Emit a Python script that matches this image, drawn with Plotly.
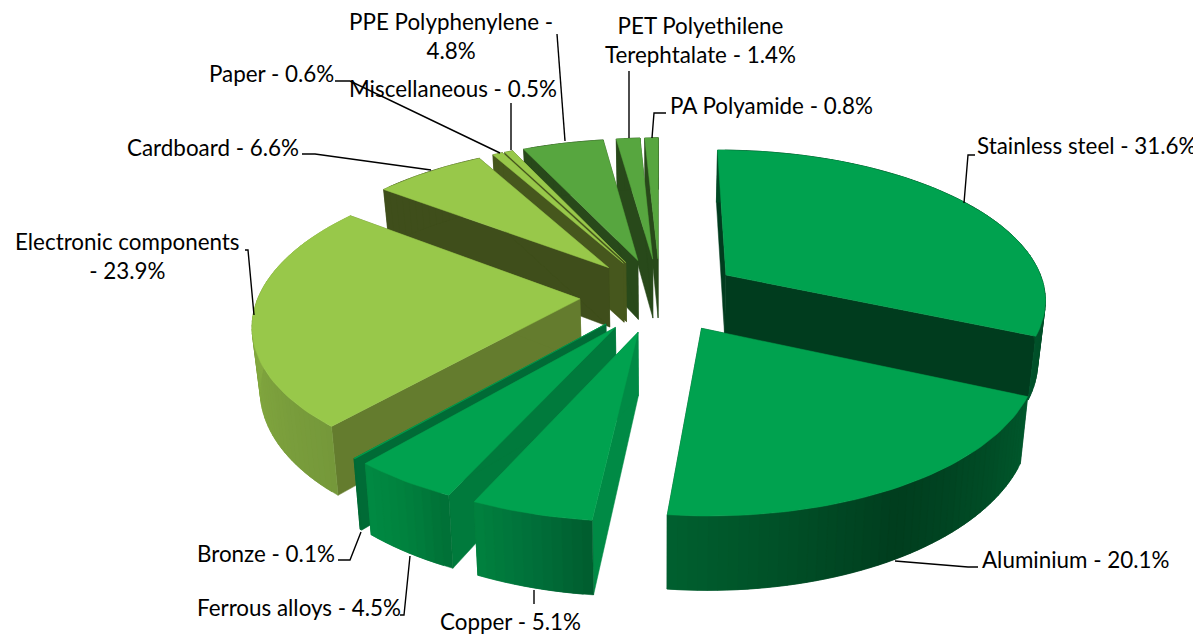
import math
import plotly.graph_objects as go

# ---- data ----
materials = ["Stainless steel", "Aluminium", "Copper", "Ferrous alloys", "Bronze",
             "Electronic components", "Cardboard", "Paper", "Miscellaneous",
             "PPE Polyphenylene", "PET Polyethilene Terephtalate", "PA Polyamide"]
shares = [31.6, 20.1, 5.1, 4.5, 0.1, 23.9, 6.6, 0.6, 0.5, 4.8, 1.4, 0.8]

# ---- styles ----
top_colors = ["#00A24F", "#00A24F", "#00A24F", "#00A24F", "#00A24F", "#98C84A",
              "#98C84A", "#98C84A", "#98C84A", "#57A63F", "#57A63F", "#57A63F"]
face_colors = ["#003C1E", "#004A25", "#008A45", "#007A3C", "#006B36", "#647C2E",
               "#3F4E1B", "#46571D", "#46571D", "#28491A", "#28491A", "#28491A"]
arc_stops = [["#004A25", "#00411F", "#00522A"],
             ["#00602F", "#003D1E", "#00582C"],
             ["#00813E", "#00703A", "#005C2E"],
             ["#008A42", "#00813E", "#006F36"],
             ["#006B36", "#006B36", "#006B36"],
             ["#93B84A", "#84AA40", "#75983A"],
             ["#3F4E1B", "#3F4E1B", "#3F4E1B"],
             ["#46571D", "#46571D", "#46571D"],
             ["#46571D", "#46571D", "#46571D"],
             ["#28491A", "#28491A", "#28491A"],
             ["#28491A", "#28491A", "#28491A"],
             ["#28491A", "#28491A", "#28491A"]]
label_texts = ["Stainless steel - 31.6%", "Aluminium - 20.1%", "Copper - 5.1%", "Ferrous alloys - 4.5%",
               "Bronze - 0.1%", "Electronic components<br>- 23.9%", "Cardboard - 6.6%", "Paper - 0.6%",
               "Miscellaneous - 0.5%", "PPE Polyphenylene -<br>4.8%", "PET Polyethilene<br>Terephtalate - 1.4%",
               "PA Polyamide - 0.8%"]
label_x = [975, 980, 510, 403, 337, 127, 301, 336, 453, 451, 700, 668]
label_y = [145, 559, 621, 607, 553, 256, 147, 73, 88, 36, 40, 105]
label_anchor = ["left", "left", "center", "right", "right", "center", "right", "right", "center", "center", "center", "left"]
leader_x = [[975, 968, 964], [978, 968, 895], [534, 534], [410, 404, 400], [361, 350, 338], [245, 248, 254],
            [302, 315, 431], [335, 350, 500], [511, 511], [557, 565], [629, 629], [666, 654, 652]]
leader_y = [[155, 155, 203], [567, 567, 561], [590, 604], [556, 615, 615], [532, 560, 560], [250, 250, 315],
            [154, 154, 170], [81, 81, 153], [103, 150], [34, 141], [71, 138], [113, 113, 138]]

# ---- projection of the exploded disc ----
CX, CY, RX, RY, PERSP, EXPLODE, DEPTH, SHRINK = 660, 295, 321, 149, 0.148, 0.25, 61, 0.98
PAGE_OFFSET = 8  # default body margin of the written page


def project(a, b, low=False):
    s = 1 / (1 + PERSP * b)
    x, y = CX + RX * a * s, CY - RY * b * s
    if low:
        x = CX + (x - CX) * SHRINK
        y = y + DEPTH * s
    return x, y


def hex_mix(c1, c2, t):
    v1 = [int(c1[i:i + 2], 16) for i in (1, 3, 5)]
    v2 = [int(c2[i:i + 2], 16) for i in (1, 3, 5)]
    return "#%02X%02X%02X" % tuple(round(p + (q - p) * t) for p, q in zip(v1, v2))


def poly(pts, color, name):
    return go.Scatter(x=[p[0] for p in pts] + [pts[0][0]], y=[p[1] for p in pts] + [pts[0][1]],
                      mode="lines", fill="toself", fillcolor=color,
                      line=dict(color=color, width=0.5), hoverinfo="text", text=name, showlegend=False)


def stop_color(stops, t):
    return hex_mix(stops[0], stops[1], t * 2) if t < .5 else hex_mix(stops[1], stops[2], t * 2 - 1)


total = sum(shares)
slices = []
cum = 0.0
for i, v in enumerate(shares):
    t0 = cum / total * 2 * math.pi
    t1 = (cum + v) / total * 2 * math.pi
    cum += v
    mid = (t0 + t1) / 2
    slices.append((i, t0, t1, mid, EXPLODE * math.sin(mid), EXPLODE * math.cos(mid)))

# back-to-front painting order
draw_order = sorted(slices, key=lambda s: -(s[5] + 0.6 * math.cos(s[3])))

fig = go.Figure()
for i, t0, t1, mid, ox, oy in draw_order:
    name = f"{materials[i]}: {shares[i]}%"
    n = max(2, int((t1 - t0) / math.radians(1.5)))
    angles = [t0 + (t1 - t0) * k / n for k in range(n + 1)]
    rim = [(ox + math.sin(t), oy + math.cos(t)) for t in angles]
    apex = (ox, oy)
    # radial faces
    for edge in (rim[0], rim[-1]):
        fig.add_trace(poly([project(*apex), project(*edge), project(*edge, low=True), project(*apex, low=True)],
                           face_colors[i], name))
    # outer wall, shaded along the arc; each quad overlaps the next one to avoid seams
    for k in range(n):
        t = (k + 0.5) / n
        col = stop_color(arc_stops[i], 1 - t if math.cos(mid) < 0 else t)
        a, b = rim[k], rim[min(k + 2, n)]
        fig.add_trace(poly([project(*a), project(*b), project(*b, low=True), project(*a, low=True)], col, name))
    # top surface
    fig.add_trace(poly([project(*apex)] + [project(*p) for p in rim], top_colors[i], name))

for xs, ys in zip(leader_x, leader_y):
    fig.add_trace(go.Scatter(x=xs, y=ys, mode="lines", line=dict(color="#000000", width=1.4),
                             hoverinfo="skip", showlegend=False))

for txt, x, y, anc in zip(label_texts, label_x, label_y, label_anchor):
    fig.add_annotation(x=x, y=y, text=txt, showarrow=False, xanchor=anc, yanchor="middle", align="center",
                       font=dict(family="Lato", size=22.4, color="#000000"))

fig.update_layout(width=1201 - PAGE_OFFSET, height=635 - PAGE_OFFSET, margin=dict(l=0, r=0, t=0, b=0),
                  paper_bgcolor="#FFFFFF", plot_bgcolor="#FFFFFF", showlegend=False,
                  xaxis=dict(range=[PAGE_OFFSET, 1201], visible=False, fixedrange=True),
                  yaxis=dict(range=[635, PAGE_OFFSET], visible=False, fixedrange=True))
fig.write_html("out.html", config={"displayModeBar": False})
